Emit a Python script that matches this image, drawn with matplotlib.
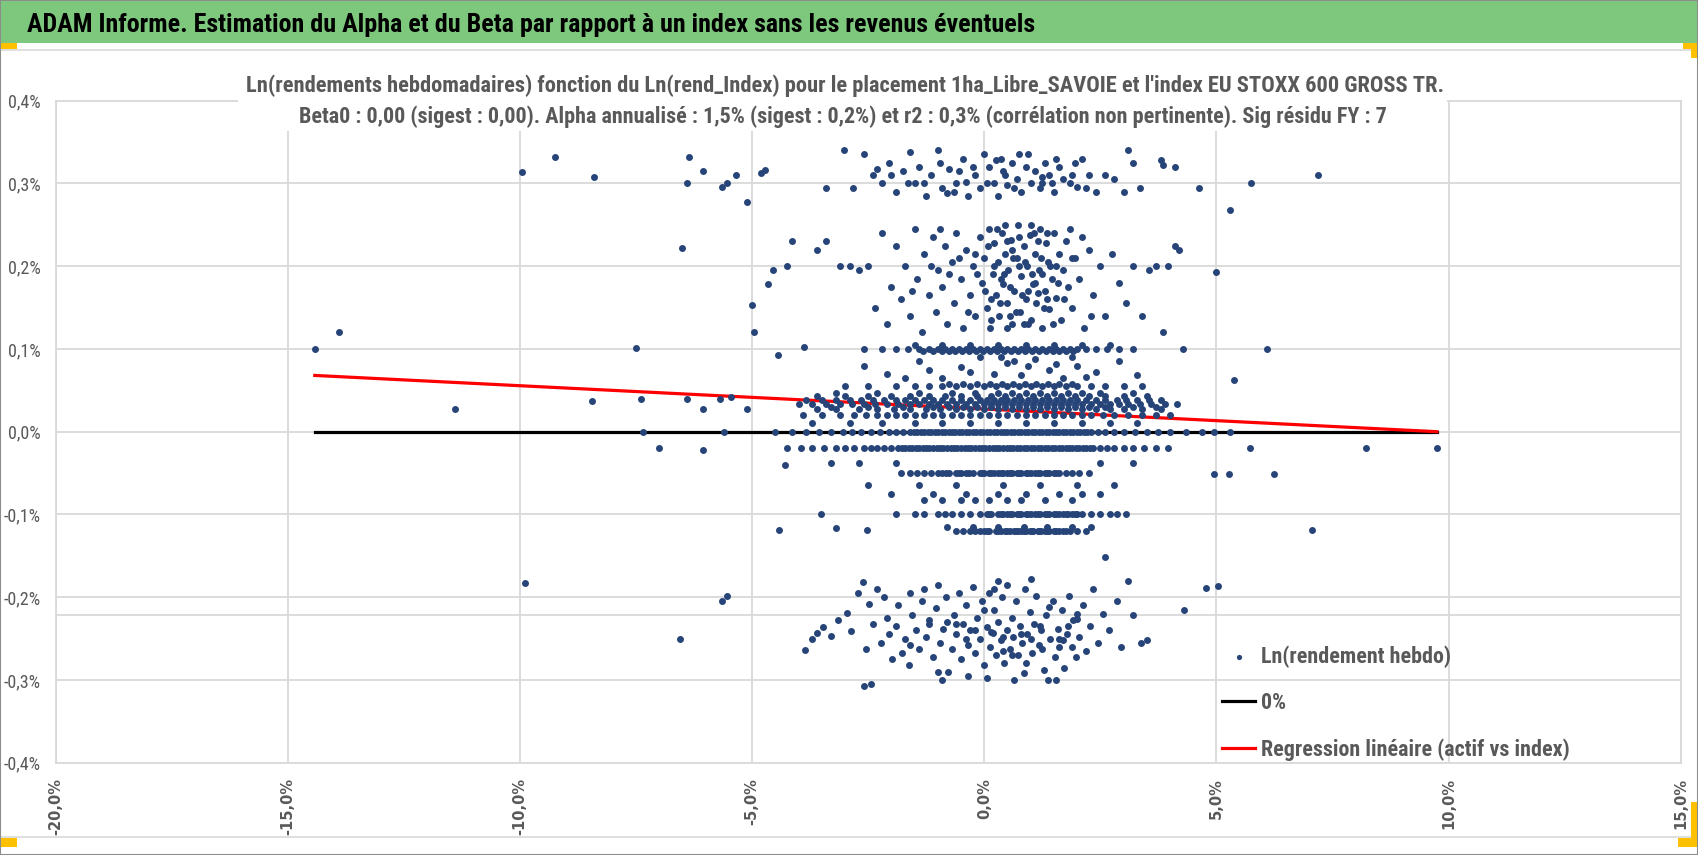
import numpy as np
import matplotlib
matplotlib.use("Agg")
import matplotlib.pyplot as plt
from matplotlib import font_manager
from matplotlib.patches import Rectangle
from matplotlib.lines import Line2D
from matplotlib.ticker import FuncFormatter, MultipleLocator

# ---- polices : une étroite si elle existe, sinon Liberation Sans ----
noms = {f.name for f in font_manager.fontManager.ttflist}
ETROITE = "Liberation Sans"
for n in ["Liberation Sans Narrow", "Arial Narrow", "Roboto Condensed",
          "Noto Sans Condensed", "Open Sans Condensed", "DejaVu Sans Condensed"]:
    if n in noms:
        ETROITE = n
        break
plt.rcParams["font.family"] = [ETROITE, "DejaVu Sans"]

GRIS = "#595959"
GRILLE = "#d9d9d9"
BLEU = "#264478"
VERT = "#7ec87e"
JAUNE = "#ffc000"

W, H = 1698, 855

titre_haut = "ADAM Informe. Estimation du Alpha et du Beta par rapport à un index sans les revenus éventuels"
titre_l1 = ("Ln(rendements hebdomadaires) fonction du Ln(rend_Index) pour le placement "
            "1ha_Libre_SAVOIE et l'index EU STOXX 600 GROSS TR.")
titre_l2 = ("Beta0 : 0,00 (sigest : 0,00). Alpha annualisé : 1,5% (sigest : 0,2%) et r2 : 0,3% "
            "(corrélation non pertinente). Sig résidu FY : 7")

# ---- données (en %) ----
# points isolés
out_x = [-14.42, -13.9, -11.4, -9.95, -9.9, -9.25, -8.4, -8.45, -7.5, -7.4, -7.35, -7.0,
         -6.55, -6.5, -6.35, -6.4, -6.05, -6.4, -6.05, -6.05, -5.65, -5.55, -5.35, -5.12,
         -5.65, -5.55, -5.7, -5.45, -5.6, -5.1, -5.0, -4.95, -4.8, -4.72, -4.65, -4.55,
         -4.45, -4.42, -4.3, -4.25, -4.15, -3.89, -3.52, -3.2, -2.52,
         4.28, 4.3, 4.63, 4.77, 4.95, 5.0, 5.04, 5.28, 5.3, 5.37, 5.72, 5.74, 6.09, 6.25,
         7.06, 7.18, 8.22, 9.75]
out_y = [0.100, 0.121, 0.027, 0.314, -0.183, 0.332, 0.308, 0.037, 0.101, 0.040, 0.000, -0.020,
         -0.250, 0.222, 0.332, 0.300, 0.315, 0.040, 0.027, -0.022, 0.296, 0.300, 0.310, 0.278,
         -0.205, -0.198, 0.040, 0.042, 0.000, 0.027, 0.153, 0.121, 0.313, 0.316, 0.179, 0.195,
         0.093, -0.119, -0.040, 0.200, 0.230, 0.102, -0.099, -0.116, -0.119,
         0.100, -0.215, 0.294, -0.189, -0.051, 0.193, -0.187, -0.051, 0.268, 0.063, -0.020, 0.300,
         0.100, -0.051, -0.119, 0.310, -0.020, -0.020]

# nuage du haut (0,28 % à 0,34 %)
top_x = [-3.4, -3.03, -2.82, -2.6, -2.4, -2.2, -2.05, -1.9, -1.75, -1.6, -1.5, -1.4, -1.25,
         -1.15, -1.0, -0.9, -0.75, -0.6, -0.45, -0.35, -0.2, -0.1, 0.0, 0.1, 0.2, 0.3, 0.4,
         0.5, 0.6, 0.7, 0.8, 0.9, 1.0, 1.1, 1.2, 1.3, 1.4, 1.5, 1.6, 1.7, 1.85, 1.95, 2.1,
         2.25, 2.6, 3.1, 3.2, 3.35, 3.8, 3.85, 4.1, -1.65, -0.55, 0.45, 1.45, 2.4, 2.8, 3.0,
         -2.3, -0.8, 0.25, 1.25, 2.0,
         -1.3, -0.95, -0.65, -0.25, 0.05, 0.35, 0.65, 0.95, 1.25, 1.55, 1.9, 2.2, -2.0, -0.4, 0.75]
top_y = [0.295, 0.341, 0.295, 0.335, 0.310, 0.300, 0.325, 0.290, 0.315, 0.338, 0.300, 0.320,
         0.285, 0.310, 0.340, 0.295, 0.318, 0.300, 0.330, 0.285, 0.310, 0.295, 0.335, 0.320,
         0.300, 0.285, 0.315, 0.298, 0.325, 0.305, 0.290, 0.320, 0.300, 0.315, 0.295, 0.325,
         0.310, 0.290, 0.320, 0.305, 0.300, 0.325, 0.330, 0.310, 0.310, 0.340, 0.325, 0.295,
         0.328, 0.322, 0.320, 0.300, 0.315, 0.310, 0.300, 0.290, 0.305, 0.290,
         0.318, 0.288, 0.328, 0.308, 0.296,
         0.300, 0.325, 0.290, 0.320, 0.300, 0.330, 0.295, 0.335, 0.300, 0.330, 0.310, 0.295,
         0.310, 0.302, 0.335]

# nuage 0,12 % à 0,25 %
up_x = [-2.9, -2.7, -2.5, -2.35, -2.2, -2.1, -2.0, -1.9, -1.8, -1.7, -1.6, -1.5, -1.45, -1.35,
        -1.3, -1.2, -1.1, -1.05, -1.0, -0.9, -0.85, -0.8, -0.7, -0.65, -0.6, -0.5, -0.45,
        -0.4, -0.3, -0.25, -0.2, -0.1, -0.05, 0.0, 0.05, 0.1, 0.12, 0.18, 0.2, 0.25, 0.3,
        0.32, 0.38, 0.4, 0.45, 0.5, 0.52, 0.58, 0.6, 0.65, 0.7, 0.72, 0.78, 0.8, 0.85, 0.9,
        0.92, 0.98, 1.0, 1.05, 1.1, 1.12, 1.18, 1.2, 1.25, 1.3, 1.32, 1.38, 1.4, 1.45, 1.5,
        1.55, 1.6, 1.65, 1.7, 1.75, 1.8, 1.85, 1.9, 1.95, 2.05, 2.15, 2.25, 2.35, 2.5, 2.6,
        2.75, 2.9, 3.05, 3.2, 3.4, 3.55, 3.7, 3.85, 3.95, 4.1, 4.2, 0.15, 0.55, 0.95, 1.35,
        0.35, 0.75, 1.15, 0.45, 0.85, 1.25, -0.15, -0.55, 0.6, 1.0, 1.55, -3.1, -3.4, -3.6]
up_y = [0.200, 0.195, 0.200, 0.150, 0.240, 0.130, 0.175, 0.225, 0.160, 0.200, 0.140, 0.245,
        0.185, 0.120, 0.215, 0.165, 0.235, 0.145, 0.195, 0.175, 0.225, 0.130, 0.205, 0.155,
        0.240, 0.185, 0.125, 0.220, 0.165, 0.200, 0.140, 0.235, 0.180, 0.210, 0.150, 0.245,
        0.125, 0.190, 0.228, 0.165, 0.205, 0.140, 0.240, 0.178, 0.215, 0.155, 0.195, 0.232,
        0.130, 0.170, 0.210, 0.250, 0.145, 0.188, 0.225, 0.160, 0.200, 0.238, 0.135, 0.178,
        0.215, 0.155, 0.195, 0.245, 0.125, 0.170, 0.228, 0.205, 0.148, 0.185, 0.240, 0.162,
        0.215, 0.135, 0.195, 0.230, 0.175, 0.245, 0.150, 0.210, 0.185, 0.125, 0.220, 0.165,
        0.200, 0.140, 0.215, 0.180, 0.155, 0.200, 0.140, 0.195, 0.200, 0.120, 0.200, 0.225,
        0.220, 0.160, 0.140, 0.170, 0.160, 0.185, 0.200, 0.230, 0.250, 0.130, 0.190, 0.190,
        0.210, 0.220, 0.250, 0.200, 0.200, 0.230, 0.220]
up2_x = [0.02, 0.08, 0.14, 0.22, 0.28, 0.34, 0.42, 0.48, 0.55, 0.62, 0.68, 0.75, 0.82, 0.88,
         0.95, 1.02, 1.08, 1.15, 1.22, 1.28, 1.35, 1.42, 1.48, 1.58, -0.35, -0.75, -1.15,
         -1.55, -0.95, 1.72, 1.88, 2.1, 2.3, -0.2, 0.5, 1.1]
up2_y = [0.170, 0.225, 0.135, 0.200, 0.245, 0.155, 0.190, 0.230, 0.175, 0.210, 0.145, 0.235,
         0.165, 0.205, 0.130, 0.190, 0.240, 0.168, 0.210, 0.150, 0.240, 0.200, 0.130, 0.180,
         0.145, 0.190, 0.200, 0.170, 0.245, 0.160, 0.210, 0.235, 0.140, 0.215, 0.125, 0.180]

# points épars 0,06 % à 0,09 %
mid_x = [-2.6, -2.1, -1.7, -1.4, -0.9, -0.5, -0.1, 0.2, 0.35, 0.5, 0.8, 0.95, 1.1, 1.4, 1.7,
         1.9, 2.0, 2.4, 2.9, 3.3, -1.2, 0.65, 1.55, 2.2, -0.3]
mid_y = [0.080, 0.070, 0.065, 0.085, 0.065, 0.078, 0.090, 0.070, 0.090, 0.083, 0.068, 0.080,
         0.088, 0.074, 0.065, 0.090, 0.080, 0.072, 0.085, 0.068, 0.075, 0.086, 0.082, 0.066,
         0.072]

# nuage négatif (-0,15 % à -0,31 %)
neg_x = [-3.86, -3.72, -3.6, -3.47, -3.3, -3.15, -2.95, -2.86, -2.72, -2.62, -2.59, -2.45,
         -2.55, -2.48, -2.4, -2.3, -2.22, -2.15, -2.05, -1.98, -1.9, -1.85, -1.78, -1.7,
         -1.62, -1.55, -1.48, -1.4, -1.35, -1.3, -1.25, -1.18, -1.1, -1.05, -1.0, -0.95,
         -0.88, -0.82, -0.78, -0.7, -0.65, -0.6, -0.55, -0.5, -0.45, -0.4, -0.35, -0.3,
         -0.25, -0.2, -0.15, -0.1, -0.05, 0.0, 0.05, 0.05, 0.1, 0.12, 0.18, 0.22, 0.25, 0.3,
         0.35, 0.38, 0.42, 0.48, 0.5, 0.55, 0.6, 0.62, 0.68, 0.72, 0.78, 0.82, 0.88, 0.92,
         0.98, 1.02, 1.08, 1.12, 1.18, 1.22, 1.28, 1.32, 1.38, 1.42, 1.48, 1.52, 1.58, 1.62,
         1.68, 1.72, 1.78, 1.82, 1.88, 1.92, 1.98, 2.05, 2.12, 2.2, 2.28, 2.35, 2.45, 2.55,
         2.68, 2.6, 2.85, 2.95, 3.1, 3.2, 3.38, 3.5, -0.9, 0.85, -2.1, 0.3, 1.0, -1.6, 0.65,
         1.55, -0.35, 0.4, 1.25, -0.6, 2.0, 0.15, 1.7,
         -0.8, -0.4, 0.0, 0.4, 0.8, 1.2, 1.6, 2.0, -1.2, -1.6, 0.2, 0.6, 1.0, 1.4, -0.2, 0.9,
         -1.0, 1.8]
neg_y = [-0.264, -0.251, -0.243, -0.236, -0.247, -0.228, -0.219, -0.241, -0.195, -0.182,
         -0.307, -0.305, -0.262, -0.208, -0.232, -0.190, -0.255, -0.200, -0.245, -0.275,
         -0.235, -0.210, -0.268, -0.250, -0.282, -0.222, -0.240, -0.262, -0.205, -0.190,
         -0.248, -0.228, -0.272, -0.213, -0.185, -0.255, -0.238, -0.200, -0.290, -0.262,
         -0.222, -0.245, -0.195, -0.275, -0.232, -0.210, -0.258, -0.240, -0.188, -0.268,
         -0.225, -0.250, -0.205, -0.282, -0.298, -0.236, -0.195, -0.260, -0.243, -0.215,
         -0.270, -0.230, -0.252, -0.200, -0.280, -0.240, -0.185, -0.262, -0.225, -0.248,
         -0.205, -0.270, -0.235, -0.255, -0.190, -0.245, -0.218, -0.268, -0.232, -0.198,
         -0.258, -0.240, -0.288, -0.222, -0.300, -0.250, -0.205, -0.272, -0.238, -0.260,
         -0.215, -0.285, -0.245, -0.198, -0.260, -0.228, -0.272, -0.248, -0.210, -0.265,
         -0.235, -0.190, -0.255, -0.220, -0.240, -0.151, -0.205, -0.260, -0.180, -0.222,
         -0.255, -0.252, -0.300, -0.292, -0.225, -0.180, -0.178, -0.195, -0.300, -0.300,
         -0.295, -0.248, -0.262, -0.232, -0.226, -0.242, -0.252,
         -0.230, -0.250, -0.215, -0.265, -0.245, -0.235, -0.250, -0.220, -0.232, -0.258,
         -0.190, -0.270, -0.250, -0.212, -0.240, -0.280, -0.290, -0.235]

# rangées de rendements quasi constants
row_p105 = [-1.5, -0.9, -0.3, 0.3, 0.9, 1.5, 2.1, 2.7]
row_p100 = [-2.6, -2.2, -1.9, -1.65, -1.4, -1.2, -1.0, -0.85, -0.7, -0.55, -0.4, -0.25, -0.1,
            0.05, 0.2, 0.35, 0.5, 0.65, 0.8, 0.95, 1.1, 1.25, 1.4, 1.55, 1.7, 1.85, 2.0, 2.2,
            2.4, 2.65, 2.9, 3.2]
row_p097 = [-1.32, -1.1, -0.92, -0.77, -0.62, -0.47, -0.32, -0.17, -0.02, 0.12, 0.27, 0.42,
            0.57, 0.72, 0.87, 1.02, 1.17, 1.32, 1.47, 1.62, 1.77, 1.92]
row_p058 = [-0.75, -0.45, -0.15, 0.12, 0.38, 0.62, 0.88, 1.12, 1.38, 1.62, 1.88]
row_p055 = [-3.0, -2.5, -1.9, -1.5, -1.2, -0.9, -0.6, -0.3, 0.0, 0.25, 0.5, 0.75, 1.0, 1.25,
            1.5, 1.75, 2.0, 2.3, 2.6, 3.0, 3.4]
row_p047 = [-3.2, -2.3, -1.4, -0.7, -0.2, 0.3, 0.6, 0.9, 1.2, 1.5, 1.8, 2.1, 2.5, 3.2]
row_p043 = [-3.6, -3.0, -2.5, -2.0, -1.6, -1.2, -0.85, -0.5, -0.15, 0.15, 0.45, 0.75, 1.05,
            1.35, 1.65, 1.95, 2.25, 2.6, 3.0, 3.5]
row_p038 = [-3.85, -3.5, -3.2, -2.9, -2.65, -2.4, -2.15, -1.9, -1.7, -1.5, -1.3, -1.1, -0.9,
            -0.7, -0.5, -0.3, -0.1, 0.05, 0.2, 0.35, 0.5, 0.65, 0.8, 0.95, 1.1, 1.25, 1.4,
            1.55, 1.7, 1.85, 2.0, 2.2, 2.4, 2.6, 2.85, 3.05, 3.3, 3.55, 3.8]
row_p033 = [-4.0, -3.7, -3.4, -3.1, -2.85, -2.6, -2.35, -2.1, -1.85, -1.6, -1.4, -1.2, -1.0,
            -0.8, -0.6, -0.4, -0.2, 0.0, 0.15, 0.3, 0.45, 0.6, 0.75, 0.9, 1.05, 1.2, 1.35,
            1.5, 1.65, 1.8, 1.95, 2.1, 2.3, 2.5, 2.7, 2.9, 3.1, 3.35, 3.6, 3.9, 4.15]
row_p030 = [-3.3, -2.5, -1.75, -1.1, -0.75, -0.45, -0.15, 0.15, 0.45, 0.75, 1.05, 1.35, 1.65,
            1.95, 2.25, 2.6, 3.2, 3.7]
row_p027 = [-3.6, -3.2, -2.7, -2.3, -1.95, -1.6, -1.25, -0.95, -0.6, -0.3, 0.0, 0.3, 0.6, 0.9,
            1.2, 1.5, 1.8, 2.1, 2.4, 2.7, 3.0, 3.4, 3.8]
row_p020 = [-3.9, -3.5, -3.1, -2.8, -2.55, -2.3, -2.1, -1.9, -1.7, -1.5, -1.3, -1.1, -0.9,
            -0.7, -0.5, -0.3, -0.1, 0.1, 0.3, 0.5, 0.7, 0.9, 1.1, 1.3, 1.5, 1.7, 1.9, 2.1,
            2.3, 2.55, 2.8, 3.1, 3.4, 3.7, 4.0]
row_p010 = [-3.7, -2.9, -2.2, -1.5, -0.9, -0.3, 0.3, 0.9, 1.5, 2.1, 2.7, 3.3]
row_0 = [-4.5, -4.15, -3.85, -3.55, -3.3, -3.05, -2.85, -2.65, -2.45, -2.25, -2.05, -1.9,
         -1.75, -1.6, -1.45, -1.3, -1.15, -1.0, -0.85, -0.7, -0.55, -0.4, -0.25, -0.1, 0.05,
         0.2, 0.35, 0.5, 0.65, 0.8, 0.95, 1.1, 1.25, 1.4, 1.55, 1.7, 1.85, 2.0, 2.15, 2.3,
         2.45, 2.6, 2.8, 3.0, 3.25, 3.5, 3.75, 4.0, 4.35, 4.7, 4.95, 5.3,
         -1.52, -1.37, -1.22, -1.07, -0.92, -0.77, -0.62, -0.47, -0.32, -0.17, -0.02, 0.12,
         0.27, 0.42, 0.57, 0.72, 0.87, 1.02, 1.17, 1.32, 1.47, 1.62, 1.77, 1.92, 2.07, 2.22]
row_m020 = [-4.25, -3.95, -3.7, -3.45, -3.2, -3.0, -2.8, -2.6, -2.45, -2.3, -2.15, -2.0,
            -1.85, -1.7, -1.55, -1.4, -1.25, -1.1, -0.95, -0.8, -0.65, -0.5, -0.35, -0.2,
            -0.05, 0.1, 0.25, 0.4, 0.55, 0.7, 0.85, 1.0, 1.15, 1.3, 1.45, 1.6, 1.75, 1.9,
            2.05, 2.2, 2.35, 2.5, 2.65, 2.8, 3.0, 3.2, 3.45, 3.7, 3.95,
            -1.78, -1.62, -1.48, -1.32, -1.18, -1.02, -0.88, -0.72, -0.58, -0.42, -0.28, -0.12,
            0.02, 0.18, 0.32, 0.48, 0.62, 0.78, 0.92, 1.08, 1.22, 1.38, 1.52, 1.68, 1.82,
            1.98, 2.12, 2.28]
row_m038 = [-3.3, -2.7, -1.9, 2.5, 3.2]
row_m050 = [-1.8, -1.6, -1.45, -1.3, -1.15, -1.0, -0.9, -0.75, -0.6, -0.5, -0.4, -0.25, -0.1,
            0.0, 0.1, 0.2, 0.3, 0.4, 0.5, 0.6, 0.7, 0.8, 0.9, 1.0, 1.1, 1.2, 1.3, 1.4, 1.5,
            1.6, 1.75, 1.9, 2.05, 2.25,
            -0.82, -0.55, -0.32, -0.05, 0.15, 0.35, 0.55, 0.75, 0.95, 1.15, 1.35, 1.55]
row_m065 = [-2.5, -1.4, -0.6, 0.4, 1.2, 2.0, 2.8]
row_m075 = [-2.0, -1.1, -0.4, 0.3, 0.9, 1.6, 2.1, 2.5]
row_m083 = [-1.3, -0.9, -0.5, -0.2, 0.1, 0.5, 0.8, 1.3, 1.9]
row_m100 = [-1.9, -1.5, -1.3, -1.0, -0.85, -0.7, -0.5, -0.3, -0.1, 0.05, 0.15, 0.3, 0.4, 0.5,
            0.6, 0.7, 0.8, 0.9, 1.0, 1.1, 1.2, 1.3, 1.4, 1.5, 1.6, 1.7, 1.8, 1.9, 2.0, 2.1,
            2.3, 2.5, 2.7, 2.85, 3.05,
            0.1, 0.35, 0.55, 0.75, 0.95, 1.15, 1.35, 1.55, 1.75, 1.95]
row_m115 = [-0.8, -0.25, 0.3, 0.85, 1.35, 1.9, 2.3]
row_m120 = [-0.6, -0.45, -0.3, -0.2, -0.1, 0.0, 0.1, 0.25, 0.35, 0.45, 0.55, 0.65, 0.72,
            0.8, 0.9, 0.98, 1.05, 1.15, 1.22, 1.3, 1.4, 1.5, 1.6, 1.75, 1.85, 2.0, 2.2,
            0.05, 0.3, 0.5, 0.68, 0.85, 1.02, 1.18, 1.35, 1.55, 1.7]

rangees = [(0.105, row_p105), (0.100, row_p100), (0.097, row_p097), (0.058, row_p058),
           (0.055, row_p055), (0.047, row_p047), (0.043, row_p043), (0.038, row_p038),
           (0.033, row_p033), (0.030, row_p030), (0.027, row_p027), (0.020, row_p020),
           (0.010, row_p010), (0.000, row_0), (-0.020, row_m020), (-0.038, row_m038),
           (-0.050, row_m050), (-0.065, row_m065), (-0.075, row_m075), (-0.083, row_m083),
           (-0.100, row_m100), (-0.115, row_m115), (-0.120, row_m120)]

# droites
zero_x = [-14.42, 9.75]
zero_y = [0.0, 0.0]
reg_x = [-14.42, 9.75]
reg_y = [0.068, 0.0]
sig_y = -0.222

pts_x = out_x + top_x + up_x + up2_x + mid_x + neg_x
pts_y = out_y + top_y + up_y + up2_y + mid_y + neg_y
for yv, xs in rangees:
    pts_x = pts_x + xs
    pts_y = pts_y + [yv] * len(xs)


# ---- figure ----
def fx(px):
    return px / W


def fy(py):
    return 1 - py / H


fig = plt.figure(figsize=(W / 100, H / 100), dpi=100)
ax = fig.add_axes([fx(55.7), fy(762.7), fx(1680.7) - fx(55.7), fy(100.7) - fy(762.7)])
ax.set_xlim(-20, 15)
ax.set_ylim(-0.4, 0.4)
ax.xaxis.set_major_locator(MultipleLocator(5))
ax.yaxis.set_major_locator(MultipleLocator(0.1))
ax.grid(True, color=GRILLE, lw=1.3)
ax.set_axisbelow(True)
for s in ax.spines.values():
    s.set_color(GRILLE)
    s.set_linewidth(1.3)


def fmt_pct(v, pos):
    if abs(v) < 1e-9:
        v = 0.0
    return f"{v:.1f}%".replace(".", ",")


ax.xaxis.set_major_formatter(FuncFormatter(fmt_pct))
ax.yaxis.set_major_formatter(FuncFormatter(fmt_pct))
ax.tick_params(axis="y", length=0, pad=10.5, labelsize=13, labelcolor=GRIS)
ax.tick_params(axis="x", length=0, pad=11, labelsize=10.5, labelcolor=GRIS, labelrotation=90)
for t in ax.get_xticklabels():
    t.set_fontfamily("DejaVu Sans")
    t.set_fontweight("bold")

ax.axhline(sig_y, color=GRILLE, lw=1.3, zorder=1)
l_zero, = ax.plot(zero_x, zero_y, color="black", lw=2.3, zorder=2, label="0%")
l_reg, = ax.plot(reg_x, reg_y, color="#ff0000", lw=2.3, zorder=3,
                 label="Regression linéaire (actif vs index)")
sc = ax.scatter(pts_x, pts_y, s=25, color=BLEU, linewidths=0, zorder=4,
                label="Ln(rendement hebdo)")

# ---- décor façon Excel ----
fig.add_artist(Rectangle((0, fy(43)), 1, 43 / H, transform=fig.transFigure,
                         facecolor=VERT, edgecolor="none", zorder=1))
fig.add_artist(Line2D([0, 1], [fy(50), fy(50)], transform=fig.transFigure, color=GRILLE, lw=1.2))
fig.add_artist(Line2D([0, 1], [fy(837), fy(837)], transform=fig.transFigure, color=GRILLE, lw=1.2))
for (x0, y0, x1, y1) in [(0, 43, 17, 49), (1683, 43, 1697, 49), (1691, 43, 1697, 58),
                         (0, 838, 17, 847), (1678, 838, 1697, 847), (1691, 802, 1697, 847)]:
    fig.add_artist(Rectangle((fx(x0), fy(y1)), (x1 - x0) / W, (y1 - y0) / H,
                             transform=fig.transFigure, facecolor=JAUNE, edgecolor="none", zorder=2))
fig.add_artist(Rectangle((0, 0), 1, 1, transform=fig.transFigure, facecolor="none",
                         edgecolor="#8c8c8c", lw=1.5, zorder=10))

# cadre blanc du titre (masque la grille à 0,4 %)
fig.add_artist(Rectangle((fx(238), fy(131)), (1447 - 238) / W, (131 - 68) / H,
                         transform=fig.transFigure, facecolor="white", edgecolor="none", zorder=2))

hdr = fig.text(fx(27), fy(25), titre_haut, ha="left", va="center", fontsize=17,
               fontweight="bold", color="black", zorder=3)
t1 = fig.text(fx(845), fy(86), titre_l1, ha="center", va="center", fontsize=16,
              fontweight="bold", color=GRIS, zorder=3)
t2 = fig.text(fx(843), fy(117), titre_l2, ha="center", va="center", fontsize=16,
              fontweight="bold", color=GRIS, zorder=3)

fig.canvas.draw()
rend = fig.canvas.get_renderer()


def ajuste(t, largeur):
    w = t.get_window_extent(rend).width
    t.set_fontsize(t.get_fontsize() * largeur / w)


ajuste(hdr, 1011)
ajuste(t1, 1201)
ajuste(t2, 1087)


def legende(taille, esp):
    lg = ax.legend(handles=[sc, l_zero, l_reg], loc="center left",
                   bbox_to_anchor=(fx(1222), fy(703)), bbox_transform=fig.transFigure,
                   frameon=False, borderpad=0, borderaxespad=0, handlelength=1.5,
                   handletextpad=0.25, labelspacing=esp, scatterpoints=1, markerscale=0.75,
                   prop={"family": [ETROITE, "DejaVu Sans"], "size": taille, "weight": "bold"})
    for t in lg.get_texts():
        t.set_color(GRIS)
    return lg


leg = legende(17, 1.0)
fig.canvas.draw()
bb = leg.get_texts()[2].get_window_extent(rend)
taille = 17 * 308 / bb.width
haut = bb.height * 308 / bb.width
leg = legende(taille, (47 - haut) / (taille * 100 / 72))

fig.savefig("out.png", dpi=100)
